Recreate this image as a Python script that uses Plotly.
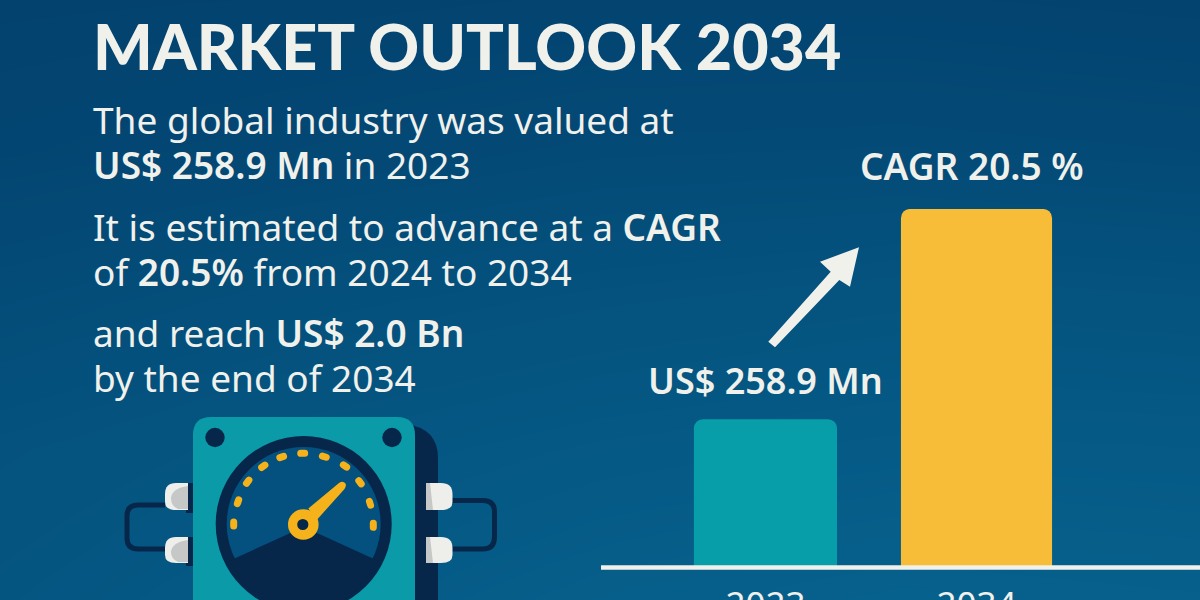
import numpy as np
import plotly.graph_objects as go

# bars (2034 bar is drawn on the same scale as 2023)
years = ["2023", "2034"]
bar_values = [258.9, 626]
bar_widths = [0.678, 0.716]
bar_colors = ["#079da9", "#f7bc38"]

# text
body_lines = [
    ("The global industry was valued at", 119.5),
    ("<span style='font-weight:600'>US$ 258.9 Mn</span> in 2023", 164.5),
    ("It is estimated to advance at a <span style='font-weight:600'>CAGR</span>", 226.5),
    ("of <span style='font-weight:600'>20.5%</span> from 2024 to 2034", 271.5),
    ("and reach <span style='font-weight:600'>US$ 2.0 Bn</span>", 332.5),
    ("by the end of 2034", 377.5),
]
title_text = "MARKET OUTLOOK 2034"

# background shades, rows top to bottom and columns left to right
bg_x = [0, 300, 600, 900, 1200]
bg_y = [0, 150, 300, 450, 600]
bg_z = [
    [0.00, 0.02, 0.06, 0.06, 0.02],
    [0.10, 0.18, 0.26, 0.28, 0.24],
    [0.32, 0.44, 0.52, 0.58, 0.54],
    [0.52, 0.64, 0.74, 0.80, 0.78],
    [0.62, 0.78, 0.92, 1.00, 0.96],
]

TEXT = "#f1f1ec"
NAVY = "#06274a"
TEAL = "#0a9aa8"
DIAL = "#04507f"
GOLD = "#f5b21a"
PAD = "#eeeeea"
PAD_DARK = "#c6c8c8"
FONT = "Noto Sans"

fig = go.Figure()

fig.add_trace(go.Heatmap(
    x=bg_x, y=bg_y, z=bg_z, zsmooth="best", showscale=False, hoverinfo="skip",
    colorscale=[[0, "#03426f"], [1, "#06618c"]], zmin=0, zmax=1,
    xaxis="x", yaxis="y",
))
fig.add_trace(go.Bar(
    x=[0, 1], y=bar_values, width=bar_widths, marker_color=bar_colors,
    marker_line_width=0, xaxis="x2", yaxis="y2",
))


def rrect(x0, y0, x1, y1, r):
    return (f"M{x0+r},{y0} L{x1-r},{y0} Q{x1},{y0} {x1},{y0+r} L{x1},{y1-r} Q{x1},{y1} {x1-r},{y1} "
            f"L{x0+r},{y1} Q{x0},{y1} {x0},{y1-r} L{x0},{y0+r} Q{x0},{y0} {x0+r},{y0} Z")


def poly(points):
    return "M" + " L".join(f"{x:.1f},{y:.1f}" for x, y in points) + " Z"


def path(d, fill=None, line=None, width=0):
    fig.add_shape(type="path", path=d, xref="x", yref="y", fillcolor=fill or "rgba(0,0,0,0)",
                  line=dict(color=line or "rgba(0,0,0,0)", width=width), layer="above")


def circle(cx, cy, r, fill):
    fig.add_shape(type="circle", x0=cx-r, x1=cx+r, y0=cy-r, y1=cy+r, xref="x", yref="y",
                  fillcolor=fill, line_width=0, layer="above")


# wires behind the connectors
path("M165,505 L138,505 Q127,505 127,516 L127,538 Q127,549 138,549 L165,549", line=NAVY, width=5)
path("M452,500.5 L483,500.5 Q494.5,500.5 494.5,512 L494.5,537 Q494.5,549 483,549 L452,549", line=NAVY, width=5)

# left connectors
for top, bottom in [(483, 510), (537, 563)]:
    path(rrect(186, top, 193, bottom+3, 0), fill=NAVY)
    path(f"M188,{top} L176,{top} Q165,{top} 165,{top+11} L165,{bottom-8} Q165,{bottom} 176,{bottom} L188,{bottom} Z", fill=PAD)
    path(f"M188,{top+3} Q172,{top+5} 171,{top+15} Q171,{bottom-4} 178,{bottom-1} L188,{bottom-1} Z", fill=PAD_DARK)

# shadow and body
path("M405,424 Q438,428 438,458 L438,600 L405,600 Z", fill=NAVY)
path(rrect(193, 417, 415, 640, 18), fill=TEAL)

# right connectors
for top, bottom in [(483, 510), (537, 563)]:
    path(f"M426,{top} L441,{top} Q452.5,{top} 452.5,{top+11} L452.5,{bottom-8} Q452.5,{bottom} 441,{bottom} L426,{bottom} Z", fill=PAD)
    path(f"M426,{top} L430,{top} L433,{bottom} L426,{bottom} Z", fill=PAD_DARK)

# screw holes
for cx, cy in [(215, 437.5), (392, 437.5), (215, 610), (392, 610)]:
    circle(cx, cy, 9.7, NAVY)

# dial
cx, cy = 303.7, 524
circle(cx, cy, 88, NAVY)
circle(cx, cy, 77, DIAL)
path(poly([(cx, 527), (229, 561), (250, 590), (cx, 606), (357, 590), (378.4, 561)]), fill=NAVY)

# scale dashes, tangent to the dial
dash_pts = [(233.7, 524), (238, 501.7), (247.7, 481.7), (263.3, 466.3), (281.7, 457), (302.7, 453.3),
            (324.3, 456.7), (345, 466), (360, 482.3), (370, 503.3), (373.3, 525.3)]
for px, py in dash_pts:
    a = np.arctan2(py-cy, px-cx)+np.pi/2
    ux, uy = np.cos(a), np.sin(a)
    nx, ny = -uy, ux
    L, W = 2.0, 3.5
    d = (f"M{px-ux*L+nx*W:.1f},{py-uy*L+ny*W:.1f} L{px+ux*L+nx*W:.1f},{py+uy*L+ny*W:.1f} "
         f"Q{px+ux*(L+W)+nx*W:.1f},{py+uy*(L+W)+ny*W:.1f} {px+ux*(L+W):.1f},{py+uy*(L+W):.1f} "
         f"Q{px+ux*(L+W)-nx*W:.1f},{py+uy*(L+W)-ny*W:.1f} {px+ux*L-nx*W:.1f},{py+uy*L-ny*W:.1f} "
         f"L{px-ux*L-nx*W:.1f},{py-uy*L-ny*W:.1f} "
         f"Q{px-ux*(L+W)-nx*W:.1f},{py-uy*(L+W)-ny*W:.1f} {px-ux*(L+W):.1f},{py-uy*(L+W):.1f} "
         f"Q{px-ux*(L+W)+nx*W:.1f},{py-uy*(L+W)+ny*W:.1f} {px-ux*L+nx*W:.1f},{py-uy*L+ny*W:.1f} Z")
    path(d, fill=GOLD)

# needle
path("M308.3,508.5 L339,483 Q343,480.5 345.5,483.5 Q346.5,486 344.5,489 L316.7,520 Z", fill=GOLD)
circle(303.3, 524.5, 15.3, GOLD)
circle(302.8, 524.5, 5.6, NAVY)

# arrow
path(poly([(768.3, 341.7), (830.7, 271.7), (820, 261.7), (859, 247.3), (850, 286.7), (839.3, 280), (775, 347.3)]), fill=TEXT)

# text
fig.add_annotation(text=title_text, x=90.5, y=45, xref="x", yref="y", xanchor="left", yanchor="middle",
                   showarrow=False, font=dict(family="Lato", size=62.8, color=TEXT, weight=900))
for line, y in body_lines:
    fig.add_annotation(text=line, x=91, y=y, xref="x", yref="y", xanchor="left", yanchor="middle",
                       showarrow=False, font=dict(family=FONT, size=37, color=TEXT))
fig.add_annotation(text="CAGR 20.5 %", x=972, y=165.5, xref="x", yref="y", showarrow=False,
                   font=dict(family=FONT, size=37, color=TEXT, weight=600))
fig.add_annotation(text="US$ 258.9 Mn", x=765.5, y=380, xref="x", yref="y", showarrow=False,
                   font=dict(family=FONT, size=36, color=TEXT, weight=600))

fig.update_layout(
    width=1200, height=600, margin=dict(l=0, r=0, t=0, b=0), showlegend=False, barcornerradius=9,
    paper_bgcolor="#03426f", plot_bgcolor="rgba(0,0,0,0)",
    xaxis=dict(domain=[0, 1], range=[0, 1200], visible=False, fixedrange=True, automargin=False),
    yaxis=dict(domain=[0, 1], range=[600, 0], visible=False, fixedrange=True, automargin=False),
    xaxis2=dict(domain=[0.5, 1], range=[-0.784, 2.059], anchor="y2", tickmode="array", tickvals=[0, 1],
                ticktext=years, showgrid=False, zeroline=False, showline=False, ticks="outside", automargin=False,
                ticklen=7, tickcolor="rgba(0,0,0,0)", tickfont=dict(family=FONT, size=35, color=TEXT)),
    yaxis2=dict(domain=[0.0542, 0.6517], range=[0, 626], anchor="x2", visible=False, automargin=False),
)
# baseline
fig.add_shape(type="line", x0=601, x1=1200, y0=567.5, y1=567.5, xref="x", yref="y",
              line=dict(color=TEXT, width=4.5), layer="above")

fig.write_html("out.html", config={"displayModeBar": False},
               post_script="document.body.style.margin='0';document.body.style.overflow='hidden';")
